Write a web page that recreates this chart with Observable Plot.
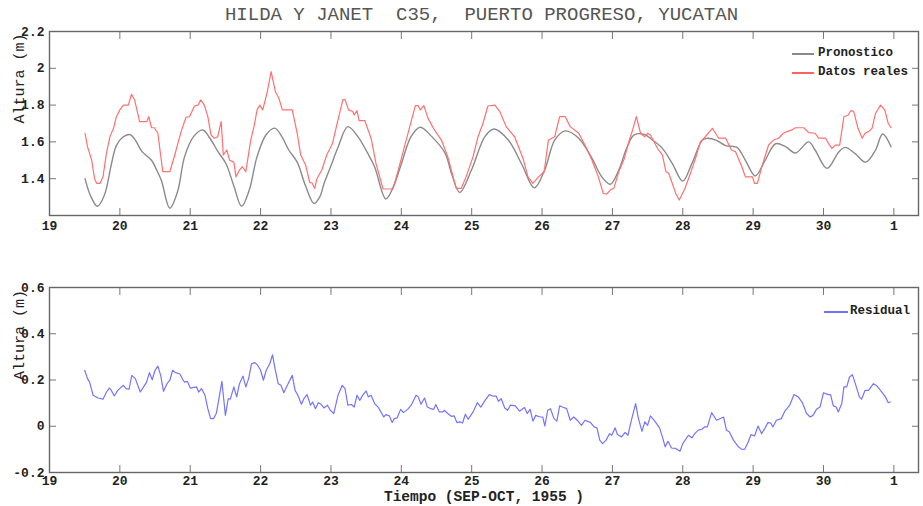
<!DOCTYPE html>
<html>
<head>
<meta charset="utf-8">
<script src="https://cdn.jsdelivr.net/npm/d3@7"></script>
<script src="https://cdn.jsdelivr.net/npm/@observablehq/plot@0.6"></script>
<style>
  html, body { margin: 0; padding: 0; background: #fff; }
  #page { position: relative; width: 923px; height: 506px; overflow: hidden; font-family: "Liberation Mono", "DejaVu Sans Mono", monospace; }
  #title { position: absolute; left: 20px; width: 923px; top: 4px; text-align: center; white-space: pre; font-size: 19px; color: #555; }
  .plot { position: absolute; left: 0; }
  .leg { position: absolute; font-size: 12.5px; font-weight: bold; color: #222; white-space: pre; z-index: 2; }
  .legline { position: absolute; height: 1.5px; z-index: 3; }
</style>
</head>
<body>
<div id="page">
  <div id="title">HILDA Y JANET  C35,  PUERTO PROGRESO, YUCATAN</div>
  <div id="top" class="plot" style="top:0px"></div>
  <div id="bottom" class="plot" style="top:245px"></div>
  <div class="leg" style="left:818px;top:46px">Pronostico</div>
  <div class="leg" style="left:818px;top:65px">Datos reales</div>
  <div class="leg" style="left:850px;top:304px">Residual</div>
  <div class="legline" style="left:792px;top:53px;width:22px;background-color:#8a8a8a"></div>
  <div class="legline" style="left:792px;top:72px;width:22px;background-color:#ff6060"></div>
  <div class="legline" style="left:824px;top:311px;width:24px;background-color:#7070ff"></div>
</div>
<script>
// x ticks (days, SEP 19 .. OCT 1)
const dayTicks = [19, 20, 21, 22, 23, 24, 25, 26, 27, 28, 29, 30, 31];
const dayLabels = ["19", "20", "21", "22", "23", "24", "25", "26", "27", "28", "29", "30", "1"];
const topYTicks = [1.4, 1.6, 1.8, 2, 2.2];
const topYLabels = ["1.4", "1.6", "1.8", "2", "2.2"];
const botYTicks = [-0.2, 0, 0.2, 0.4, 0.6];
const botYLabels = ["-0.2", "0", "0.2", "0.4", "0.6"];

// Pronostico (forecast) [day, height m]
const pronostico = [[19.505,1.40],[19.58,1.31],[19.68,1.25],[19.78,1.31],[19.88,1.48],[19.95,1.58],[20.04,1.625],[20.14,1.64],[20.22,1.61],[20.31,1.55],[20.45,1.50],[20.52,1.45],[20.59,1.39],[20.71,1.24],[20.82,1.33],[20.92,1.52],[21.05,1.63],[21.18,1.665],[21.28,1.62],[21.39,1.55],[21.51,1.48],[21.62,1.36],[21.73,1.25],[21.84,1.34],[21.95,1.52],[22.08,1.64],[22.2,1.675],[22.3,1.63],[22.40,1.556],[22.52,1.49],[22.64,1.36],[22.76,1.265],[22.84,1.30],[22.905,1.378],[23.0,1.47],[23.095,1.565],[23.24,1.683],[23.38,1.63],[23.52,1.54],[23.62,1.465],[23.78,1.29],[23.88,1.35],[24.0,1.48],[24.14,1.63],[24.27,1.68],[24.43,1.63],[24.62,1.54],[24.72,1.42],[24.83,1.325],[25.0,1.45],[25.19,1.63],[25.32,1.67],[25.52,1.61],[25.71,1.48],[25.89,1.35],[26.04,1.45],[26.18,1.61],[26.33,1.66],[26.52,1.62],[26.71,1.51],[26.85,1.41],[26.97,1.37],[27.09,1.447],[27.21,1.574],[27.31,1.638],[27.45,1.641],[27.57,1.61],[27.71,1.565],[27.85,1.483],[28.0,1.387],[28.13,1.483],[28.28,1.61],[28.35,1.62],[28.47,1.61],[28.61,1.58],[28.77,1.57],[28.89,1.50],[29.03,1.415],[29.17,1.50],[29.32,1.59],[29.46,1.574],[29.6,1.54],[29.79,1.60],[29.88,1.556],[30.05,1.456],[30.22,1.547],[30.31,1.57],[30.45,1.536],[30.60,1.49],[30.74,1.556],[30.84,1.643],[30.96,1.574]];

// Datos reales (observed) [day, height m]
const datosReales = [[19.505,1.647],[19.54,1.574],[19.6,1.50],[19.64,1.40],[19.67,1.375],[19.72,1.375],[19.76,1.41],[19.81,1.54],[19.86,1.63],[19.91,1.674],[19.95,1.737],[20.0,1.774],[20.05,1.80],[20.12,1.80],[20.165,1.859],[20.21,1.828],[20.28,1.71],[20.38,1.71],[20.41,1.737],[20.45,1.677],[20.49,1.677],[20.54,1.647],[20.61,1.438],[20.71,1.438],[20.78,1.529],[20.87,1.656],[20.94,1.734],[20.99,1.737],[21.06,1.795],[21.11,1.80],[21.15,1.828],[21.2,1.80],[21.25,1.737],[21.295,1.638],[21.34,1.62],[21.39,1.628],[21.44,1.71],[21.47,1.529],[21.52,1.556],[21.56,1.50],[21.62,1.49],[21.65,1.41],[21.7,1.447],[21.74,1.465],[21.79,1.438],[21.86,1.61],[21.91,1.69],[21.95,1.774],[21.99,1.80],[22.03,1.774],[22.09,1.864],[22.15,1.982],[22.21,1.873],[22.26,1.837],[22.31,1.774],[22.45,1.774],[22.52,1.647],[22.57,1.529],[22.64,1.474],[22.7,1.378],[22.73,1.378],[22.77,1.347],[22.80,1.40],[22.87,1.447],[22.94,1.529],[23.02,1.59],[23.1,1.72],[23.17,1.83],[23.2,1.83],[23.25,1.774],[23.31,1.765],[23.33,1.746],[23.37,1.77],[23.4,1.716],[23.48,1.716],[23.57,1.62],[23.64,1.483],[23.74,1.344],[23.88,1.344],[23.93,1.41],[24.02,1.538],[24.12,1.683],[24.2,1.797],[24.24,1.797],[24.27,1.774],[24.32,1.797],[24.38,1.728],[24.47,1.665],[24.57,1.61],[24.66,1.52],[24.78,1.347],[24.85,1.347],[24.92,1.41],[25.02,1.52],[25.09,1.628],[25.16,1.70],[25.23,1.795],[25.33,1.80],[25.4,1.765],[25.49,1.683],[25.61,1.628],[25.73,1.51],[25.8,1.41],[25.87,1.375],[25.95,1.41],[26.03,1.438],[26.09,1.61],[26.18,1.628],[26.25,1.737],[26.33,1.737],[26.4,1.683],[26.52,1.647],[26.61,1.583],[26.71,1.50],[26.8,1.41],[26.87,1.32],[26.92,1.317],[26.98,1.342],[27.02,1.347],[27.09,1.438],[27.17,1.51],[27.24,1.61],[27.28,1.656],[27.34,1.737],[27.4,1.647],[27.46,1.628],[27.5,1.647],[27.54,1.638],[27.64,1.565],[27.71,1.529],[27.76,1.438],[27.8,1.43],[27.85,1.375],[27.9,1.32],[27.95,1.284],[28.03,1.347],[28.11,1.43],[28.18,1.51],[28.25,1.60],[28.32,1.628],[28.42,1.674],[28.51,1.62],[28.61,1.62],[28.69,1.556],[28.75,1.547],[28.84,1.465],[28.89,1.41],[28.99,1.41],[29.02,1.375],[29.06,1.375],[29.13,1.474],[29.22,1.583],[29.29,1.61],[29.36,1.62],[29.43,1.647],[29.48,1.656],[29.55,1.665],[29.6,1.677],[29.72,1.677],[29.79,1.65],[29.88,1.647],[29.93,1.62],[30.03,1.62],[30.07,1.592],[30.12,1.565],[30.17,1.583],[30.23,1.583],[30.29,1.737],[30.35,1.746],[30.39,1.77],[30.43,1.765],[30.49,1.674],[30.55,1.62],[30.59,1.647],[30.64,1.656],[30.69,1.674],[30.74,1.756],[30.81,1.80],[30.87,1.774],[30.92,1.70],[30.96,1.677]];

// Residual [day, m]
const residual = [[19.50,0.242],[19.54,0.206],[19.57,0.191],[19.62,0.134],[19.69,0.122],[19.76,0.117],[19.81,0.148],[19.85,0.165],[19.88,0.155],[19.92,0.131],[19.97,0.155],[20.05,0.177],[20.09,0.163],[20.13,0.16],[20.17,0.22],[20.22,0.206],[20.29,0.148],[20.35,0.177],[20.38,0.191],[20.42,0.232],[20.46,0.201],[20.5,0.242],[20.54,0.26],[20.58,0.22],[20.62,0.151],[20.67,0.184],[20.71,0.199],[20.75,0.242],[20.79,0.232],[20.85,0.227],[20.9,0.199],[20.92,0.191],[20.96,0.194],[21.0,0.165],[21.09,0.17],[21.12,0.148],[21.16,0.163],[21.21,0.134],[21.25,0.076],[21.29,0.033],[21.33,0.033],[21.37,0.055],[21.40,0.105],[21.45,0.194],[21.5,0.047],[21.54,0.119],[21.57,0.117],[21.62,0.17],[21.66,0.127],[21.7,0.184],[21.75,0.217],[21.79,0.17],[21.83,0.206],[21.87,0.27],[21.92,0.275],[21.96,0.263],[22.0,0.242],[22.04,0.199],[22.08,0.242],[22.13,0.27],[22.17,0.309],[22.21,0.242],[22.25,0.184],[22.29,0.177],[22.33,0.145],[22.38,0.177],[22.45,0.22],[22.49,0.155],[22.53,0.134],[22.58,0.095],[22.62,0.122],[22.66,0.137],[22.71,0.091],[22.74,0.105],[22.78,0.076],[22.82,0.102],[22.86,0.095],[22.9,0.079],[22.95,0.091],[22.99,0.069],[23.04,0.055],[23.1,0.134],[23.16,0.177],[23.2,0.163],[23.24,0.091],[23.29,0.094],[23.33,0.083],[23.37,0.134],[23.41,0.112],[23.45,0.134],[23.5,0.153],[23.53,0.127],[23.57,0.134],[23.62,0.098],[23.67,0.083],[23.71,0.062],[23.75,0.04],[23.78,0.05],[23.83,0.045],[23.87,0.016],[23.9,0.033],[23.94,0.036],[23.99,0.073],[24.03,0.059],[24.09,0.073],[24.14,0.091],[24.21,0.134],[24.24,0.127],[24.28,0.095],[24.33,0.122],[24.37,0.083],[24.42,0.076],[24.46,0.073],[24.49,0.094],[24.54,0.062],[24.59,0.062],[24.61,0.069],[24.66,0.055],[24.71,0.043],[24.75,0.045],[24.79,0.016],[24.83,0.019],[24.87,0.014],[24.91,0.052],[24.95,0.03],[25.02,0.062],[25.08,0.102],[25.13,0.083],[25.19,0.112],[25.25,0.137],[25.31,0.13],[25.35,0.13],[25.38,0.108],[25.42,0.119],[25.47,0.079],[25.51,0.069],[25.55,0.091],[25.62,0.088],[25.68,0.065],[25.75,0.081],[25.79,0.055],[25.83,0.073],[25.87,0.022],[25.91,0.047],[25.97,0.04],[26.01,0.04],[26.04,0.001],[26.08,0.069],[26.12,0.076],[26.17,0.033],[26.21,0.022],[26.25,0.088],[26.29,0.083],[26.35,0.076],[26.4,0.026],[26.45,0.04],[26.5,0.026],[26.56,0.004],[26.61,0.026],[26.64,0.022],[26.69,0.016],[26.74,-0.003],[26.78,-0.007],[26.82,-0.06],[26.86,-0.075],[26.91,-0.06],[26.96,-0.032],[26.99,-0.039],[27.04,-0.007],[27.07,-0.036],[27.13,-0.046],[27.18,-0.027],[27.22,-0.039],[27.27,0.026],[27.33,0.098],[27.37,0.033],[27.42,-0.022],[27.46,0.019],[27.5,0.004],[27.54,0.045],[27.61,0.019],[27.67,-0.007],[27.71,-0.046],[27.75,-0.089],[27.79,-0.065],[27.84,-0.094],[27.9,-0.096],[27.96,-0.108],[28.0,-0.075],[28.08,-0.039],[28.13,-0.05],[28.17,-0.032],[28.22,-0.017],[28.27,-0.013],[28.31,-0.003],[28.35,-0.003],[28.41,0.059],[28.48,0.026],[28.55,0.036],[28.58,0.04],[28.62,-0.017],[28.66,-0.024],[28.72,-0.06],[28.79,-0.089],[28.84,-0.1],[28.88,-0.099],[28.93,-0.068],[28.97,-0.036],[29.02,-0.042],[29.07,0.001],[29.12,-0.032],[29.17,-0.007],[29.21,0.016],[29.25,0.014],[29.28,-0.003],[29.33,0.026],[29.4,0.033],[29.45,0.065],[29.52,0.091],[29.58,0.137],[29.64,0.127],[29.7,0.102],[29.76,0.055],[29.81,0.04],[29.85,0.047],[29.9,0.073],[29.95,0.083],[30.0,0.145],[30.07,0.137],[30.1,0.137],[30.14,0.088],[30.18,0.083],[30.21,0.062],[30.26,0.098],[30.29,0.17],[30.33,0.17],[30.37,0.213],[30.41,0.223],[30.46,0.177],[30.51,0.127],[30.54,0.117],[30.59,0.155],[30.64,0.155],[30.71,0.184],[30.76,0.174],[30.81,0.155],[30.88,0.127],[30.92,0.102],[30.95,0.105]];

const FONT = "Liberation Mono, DejaVu Sans Mono, monospace";
const TICKCOL = "#777";
const xDomain = [19, 31.35];

function axes(yTicks, yLabels, xPad) {
  const yfmt = d => yLabels[yTicks.indexOf(d)];
  const xfmt = d => dayLabels[dayTicks.indexOf(d)];
  return [
    Plot.axisX({anchor: "bottom", ticks: dayTicks, tickSize: 0, tickPadding: xPad, tickFormat: xfmt, fontSize: 13, fontWeight: "bold", fill: "#222", label: null}),
    Plot.axisX({anchor: "bottom", ticks: dayTicks, tickSize: -7, tickFormat: () => "", stroke: TICKCOL, label: null}),
    Plot.axisX({anchor: "top", ticks: dayTicks, tickSize: -7, tickFormat: () => "", stroke: TICKCOL, label: null}),
    Plot.axisY({anchor: "left", ticks: yTicks, tickSize: 0, tickPadding: 5, tickFormat: yfmt, fontSize: 13, fontWeight: "bold", fill: "#222", label: null}),
    Plot.axisY({anchor: "left", ticks: yTicks, tickSize: -7, tickFormat: () => "", stroke: TICKCOL, label: null}),
    Plot.axisY({anchor: "right", ticks: yTicks, tickSize: -7, tickFormat: () => "", stroke: TICKCOL, label: null}),
    Plot.frame({stroke: "#666", strokeWidth: 1.4}),
    Plot.text(["Altura (m)"], {frameAnchor: "left", dx: -30, rotate: -90, fontSize: 15, fill: "#222", fontFamily: FONT})
  ];
}

const topPlot = Plot.plot({
  width: 923, height: 245,
  marginLeft: 49, marginRight: 5, marginTop: 31, marginBottom: 30,
  style: {fontFamily: FONT, background: "transparent", overflow: "visible"},
  x: {domain: xDomain},
  y: {domain: [1.2, 2.2]},
  marks: [
    ...axes(topYTicks, topYLabels, 5),
    Plot.line(pronostico, {x: d => d[0], y: d => d[1], stroke: "#8a8a8a", strokeWidth: 1.4, curve: "catmull-rom"}),
    Plot.line(datosReales, {x: d => d[0], y: d => d[1], stroke: "#ff7070", strokeWidth: 1.2})
  ]
});
document.getElementById("top").appendChild(topPlot);

const botPlot = Plot.plot({
  width: 923, height: 261,
  marginLeft: 49, marginRight: 5, marginTop: 42, marginBottom: 34,
  style: {fontFamily: FONT, background: "transparent", overflow: "visible"},
  x: {domain: xDomain},
  y: {domain: [-0.2, 0.6]},
  marks: [
    ...axes(botYTicks, botYLabels, 3),
    Plot.line(residual, {x: d => d[0], y: d => d[1], stroke: "#7474ff", strokeWidth: 1.2}),
    Plot.text(["Tiempo (SEP-OCT, 1955 )"], {frameAnchor: "bottom", dy: 28, fontSize: 14.5, fontWeight: "bold", fill: "#222", fontFamily: FONT})
  ]
});
document.getElementById("bottom").appendChild(botPlot);
</script>
</body>
</html>
